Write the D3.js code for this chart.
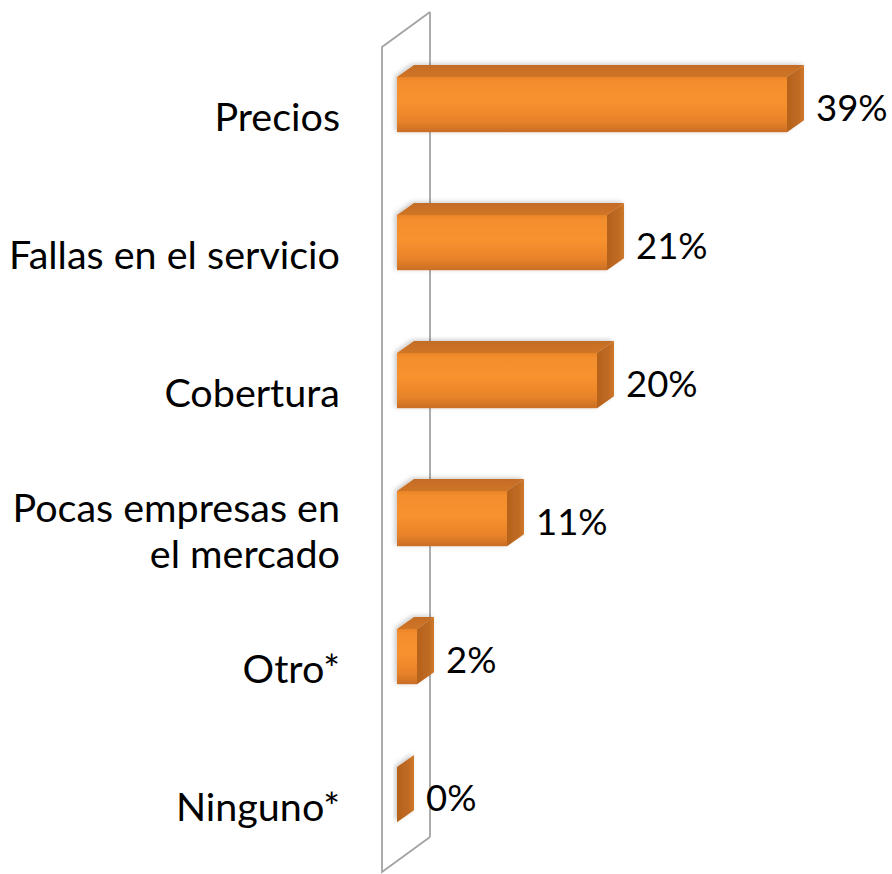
<!DOCTYPE html>
<html>
<head>
<meta charset="utf-8">
<script src="https://cdn.jsdelivr.net/npm/d3@7"></script>
<style>
  html, body { margin: 0; padding: 0; background: #ffffff; }
  svg { display: block; }
  text { font-family: Lato, "Open Sans", sans-serif; fill: #000; }
</style>
</head>
<body>
<div id="chart"></div>
<script>
// ---- data ----
const categories = ["Precios", "Fallas en el servicio", "Cobertura", "Pocas empresas en\nel mercado", "Otro*", "Ninguno*"];
const values = [39, 21, 20, 11, 2, 0];
const valueFormat = v => v + "%";

// ---- layout ----
const W = 892, H = 874;
const fontSize = 39.5;
const valueFontSize = 36.5;
const depth = { dx: 17, dy: -12 };        // bar depth offset
const wallDepth = { dx: 48, dy: -35 };    // wall depth offset
const wallFront = { dx: -15, dy: 11 };    // wall front relative to bar front plane

const svg = d3.select("#chart").append("svg")
  .attr("width", W).attr("height", H);

svg.append("rect").attr("width", W).attr("height", H).attr("fill", "#fff");

const x = d3.scaleLinear().domain([0, 40]).range([397, 797]);
const y = d3.scaleBand().domain(categories)
  .range([35.6, 863.6]).paddingInner(0.6).paddingOuter(0.3);

// ---- defs ----
const defs = svg.append("defs");
const gFront = defs.append("linearGradient").attr("id", "gFront")
  .attr("x1", 0).attr("y1", 0).attr("x2", 0).attr("y2", 1);
[["0%", "#E88428"], ["8%", "#F38E2D"], ["45%", "#F8922E"], ["80%", "#E8822A"], ["100%", "#C96E24"]]
  .forEach(([o, c]) => gFront.append("stop").attr("offset", o).attr("stop-color", c));
const gTop = defs.append("linearGradient").attr("id", "gTop")
  .attr("x1", 0).attr("y1", 1).attr("x2", 0).attr("y2", 0);
[["0%", "#CF7526"], ["100%", "#C36C25"]]
  .forEach(([o, c]) => gTop.append("stop").attr("offset", o).attr("stop-color", c));
const gSide = defs.append("linearGradient").attr("id", "gSide")
  .attr("x1", 0).attr("y1", 0).attr("x2", 1).attr("y2", 0);
[["0%", "#B5621D"], ["70%", "#C06A22"], ["100%", "#CF7A2D"]]
  .forEach(([o, c]) => gSide.append("stop").attr("offset", o).attr("stop-color", c));
const shadow = defs.append("filter").attr("id", "shadow")
  .attr("x", "-20%").attr("y", "-30%").attr("width", "140%").attr("height", "160%");
shadow.append("feDropShadow").attr("dx", -2).attr("dy", -1)
  .attr("stdDeviation", 2.5).attr("flood-color", "#000").attr("flood-opacity", 0.22);

// ---- wall ----
const wx = x(0) + wallFront.dx;
const wTop = 47, wBot = 872;
const wallColor = "#a3a3a3";
const wall = svg.append("g").attr("fill", "none").attr("stroke", wallColor).attr("stroke-width", 1.8);
// back edge (behind bars)
wall.append("line")
  .attr("x1", wx + wallDepth.dx).attr("y1", wTop + wallDepth.dy)
  .attr("x2", wx + wallDepth.dx).attr("y2", wBot + wallDepth.dy);
// front edge and top/bottom
wall.append("path")
  .attr("d", `M${wx + wallDepth.dx},${wTop + wallDepth.dy} L${wx},${wTop} L${wx},${wBot} L${wx + wallDepth.dx},${wBot + wallDepth.dy}`);

// ---- bars ----
const bars = svg.append("g").selectAll("g").data(categories).join("g")
  .attr("filter", "url(#shadow)");

bars.each(function (c, i) {
  const g = d3.select(this);
  const x0 = x(0), x1 = x(values[i]);
  const yt = y(c), yb = y(c) + y.bandwidth();
  // top face
  g.append("path")
    .attr("d", `M${x0},${yt} L${x1},${yt} L${x1 + depth.dx},${yt + depth.dy} L${x0 + depth.dx},${yt + depth.dy} Z`)
    .attr("fill", "url(#gTop)");
  // side face
  g.append("path")
    .attr("d", `M${x1},${yt} L${x1 + depth.dx},${yt + depth.dy} L${x1 + depth.dx},${yb + depth.dy} L${x1},${yb} Z`)
    .attr("fill", "url(#gSide)");
  // front face
  g.append("rect")
    .attr("x", x0).attr("y", yt).attr("width", x1 - x0).attr("height", yb - yt)
    .attr("fill", "url(#gFront)");
});

// ---- value labels ----
svg.append("g").selectAll("text").data(categories).join("text")
  .attr("x", (c, i) => x(values[i]) + depth.dx + 12)
  .attr("y", c => y(c) + 44)
  .attr("font-size", valueFontSize)
  .text((c, i) => valueFormat(values[i]));

// ---- category labels ----
const lineH = 46;
svg.append("g").selectAll("text").data(categories).join("text")
  .attr("text-anchor", "end")
  .attr("font-size", fontSize)
  .each(function (c) {
    const lines = c.split("\n");
    const base = y(c) + 54;
    d3.select(this).selectAll("tspan").data(lines).join("tspan")
      .attr("x", 340)
      .attr("y", (l, k) => base + (k - (lines.length - 1) / 2) * lineH)
      .text(l => l);
  });
</script>
</body>
</html>
